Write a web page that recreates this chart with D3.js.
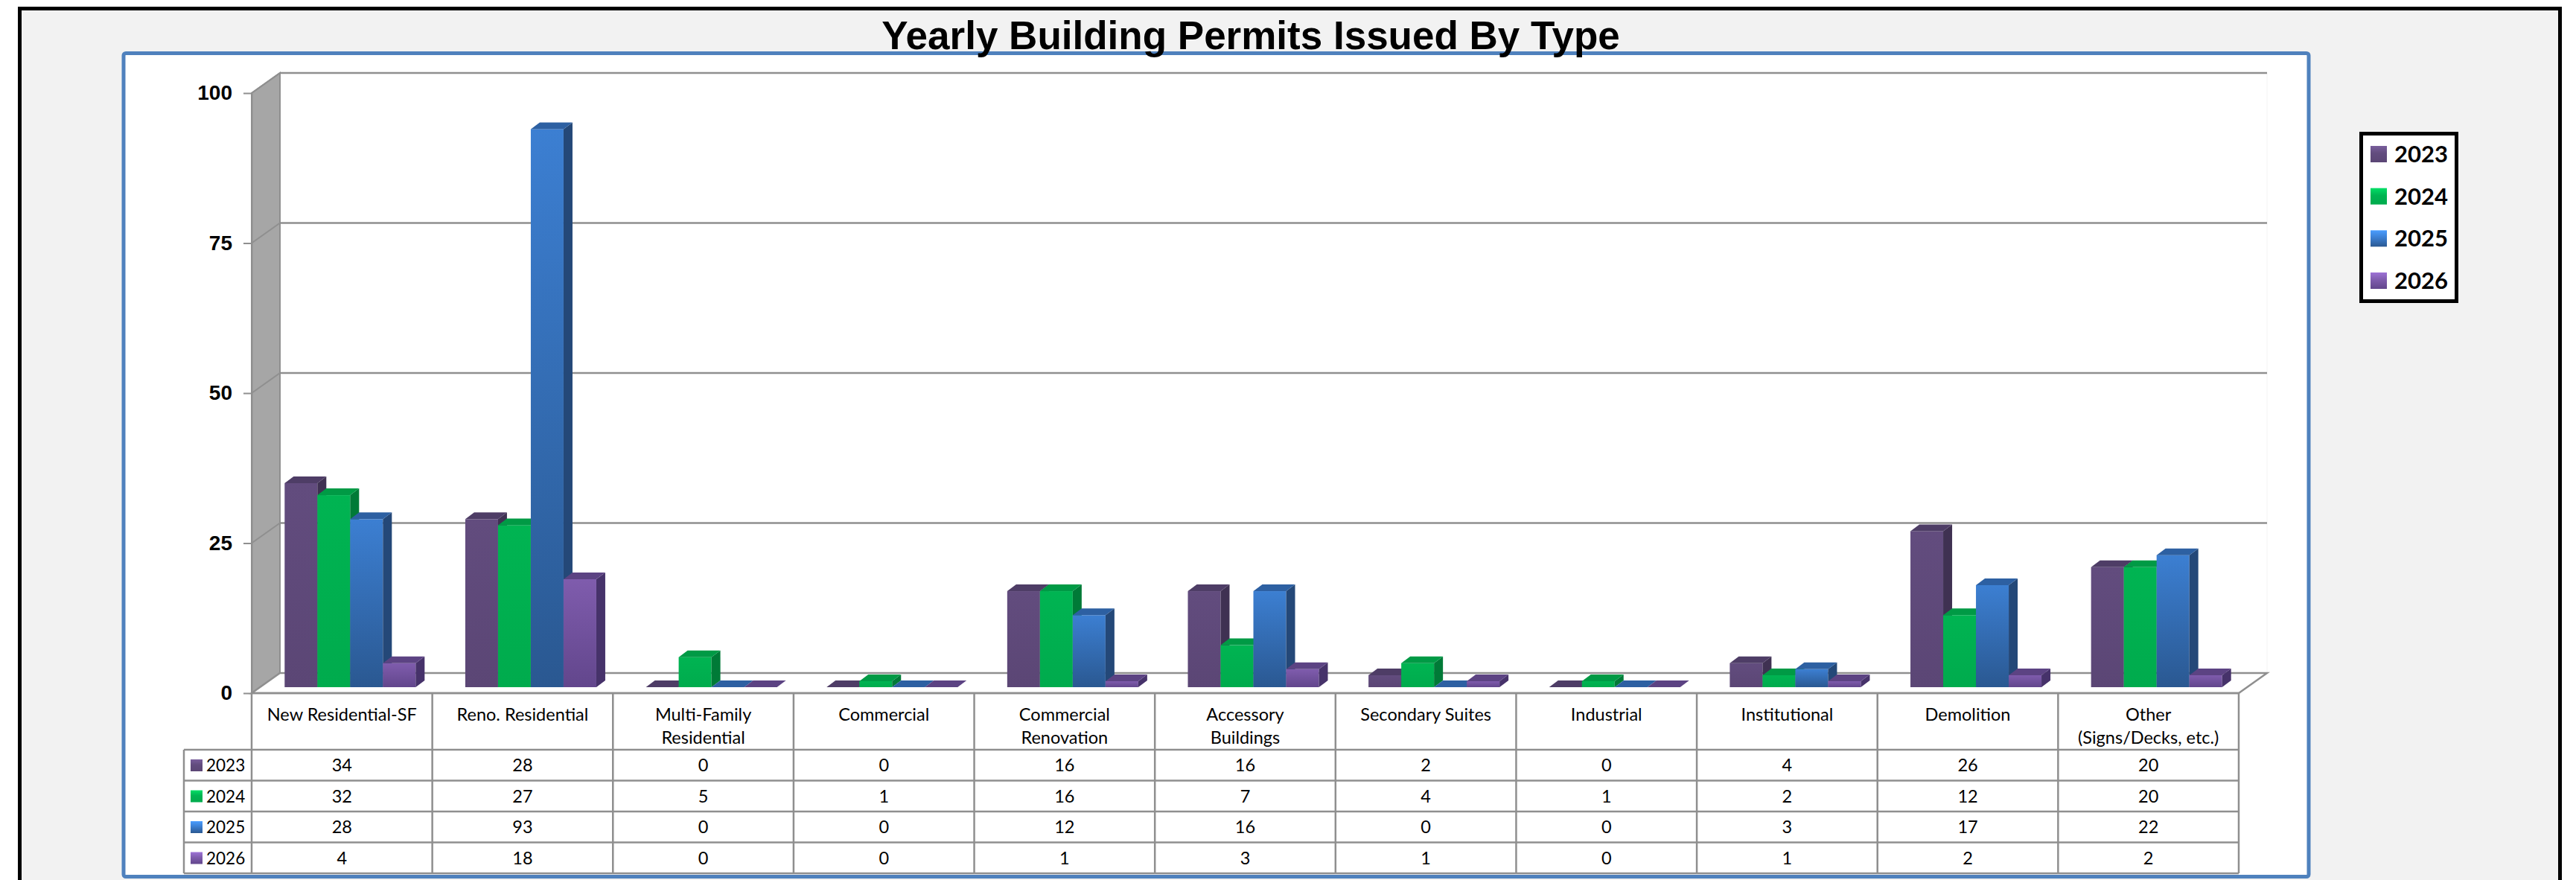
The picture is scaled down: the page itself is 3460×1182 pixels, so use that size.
<!DOCTYPE html>
<html>
<head>
<meta charset="utf-8">
<script src="https://cdn.jsdelivr.net/npm/d3@7"></script>
<style>
  body { margin: 0; background: #fff; }
  svg { display: block; }
</style>
</head>
<body>
<script>
// chart data
const title = "Yearly Building Permits Issued By Type";
const categories = ["New Residential-SF", "Reno. Residential", "Multi-Family Residential", "Commercial",
  "Commercial Renovation", "Accessory Buildings", "Secondary Suites", "Industrial", "Institutional",
  "Demolition", "Other (Signs/Decks, etc.)"];
const categoryLines = [["New Residential-SF"], ["Reno. Residential"], ["Multi-Family", "Residential"], ["Commercial"],
  ["Commercial", "Renovation"], ["Accessory", "Buildings"], ["Secondary Suites"], ["Industrial"], ["Institutional"],
  ["Demolition"], ["Other", "(Signs/Decks, etc.)"]];
const years = ["2023", "2024", "2025", "2026"];
const v2023 = [34, 28, 0, 0, 16, 16, 2, 0, 4, 26, 20];
const v2024 = [32, 27, 5, 1, 16, 7, 4, 1, 2, 12, 20];
const v2025 = [28, 93, 0, 0, 12, 16, 0, 0, 3, 17, 22];
const v2026 = [4, 18, 0, 0, 1, 3, 1, 0, 1, 2, 2];
const yTicks = [0, 25, 50, 75, 100];

const series = [v2023, v2024, v2025, v2026];
// front top, front bottom, side, top face
const colors = [
  ["#624c7e", "#5b4675", "#3f3152", "#4e3d66"],
  ["#00b452", "#00ab4d", "#007a37", "#009a45"],
  ["#3c7fd2", "#2a5891", "#244878", "#2d60a2"],
  ["#7f5cad", "#62468c", "#46326a", "#5c4383"]
];

const W = 3460, H = 1182;
const svg = d3.select("body").append("svg").attr("width", W).attr("height", H);
const defs = svg.append("defs");
colors.forEach((c, i) => {
  const g = defs.append("linearGradient").attr("id", "g" + i)
    .attr("x1", 0).attr("y1", 0).attr("x2", 0).attr("y2", 1);
  g.append("stop").attr("offset", "0%").attr("stop-color", c[0]);
  g.append("stop").attr("offset", "100%").attr("stop-color", c[1]);
  const k = defs.append("linearGradient").attr("id", "k" + i)
    .attr("x1", 0).attr("y1", 0).attr("x2", 0).attr("y2", 1);
  k.append("stop").attr("offset", "0%").attr("stop-color", d3.color(c[0]).brighter(0.6));
  k.append("stop").attr("offset", "45%").attr("stop-color", c[0]);
  k.append("stop").attr("offset", "100%").attr("stop-color", c[1]);
});

// outer frame and plot panel
svg.append("rect").attr("x", 26.5).attr("y", 11.5).attr("width", 3412).attr("height", 1200)
  .attr("fill", "#f2f2f2").attr("stroke", "#000").attr("stroke-width", 5);
svg.append("rect").attr("x", 166).attr("y", 71.5).attr("width", 2935).attr("height", 1106).attr("rx", 3)
  .attr("fill", "#fff").attr("stroke", "#4f81bd").attr("stroke-width", 5);
svg.append("text").attr("x", 1680).attr("y", 66).attr("text-anchor", "middle")
  .attr("font-family", "'Liberation Sans', Arial, sans-serif").attr("font-weight", "bold")
  .attr("font-size", 53).text(title);

// scales
const x = d3.scaleBand().domain(categories).range([338, 3007]);
const xs = d3.scaleBand().domain(years).range([0, x.bandwidth()]).paddingOuter(0.757);
const y = d3.scaleLinear().domain([0, 100]).range([931, 125]);
const dx = 38, dy = -27;          // wall depth
const fx = 11, fy = -8;           // bar front offset
const bx = 12, by = -9;           // bar depth
const grid = "#8f8f8f";

const walls = svg.append("g");
const pts = a => a.map(p => p.join(",")).join(" ");
// back wall
walls.append("rect").attr("x", 338 + dx).attr("y", y(100) + dy)
  .attr("width", 3007 - 338).attr("height", y(0) - y(100)).attr("fill", "#fff")
  .attr("stroke", "#f4f4f4");
// left wall
walls.append("polygon").attr("points", pts([[338, y(0)], [338, y(100)], [338 + dx, y(100) + dy], [338 + dx, y(0) + dy]]))
  .attr("fill", "#a6a6a6").attr("stroke", grid).attr("stroke-width", 2);
// floor
walls.append("polygon").attr("points", pts([[338, y(0)], [3007, y(0)], [3007 + dx, y(0) + dy], [338 + dx, y(0) + dy]]))
  .attr("fill", "#fff").attr("stroke", grid).attr("stroke-width", 2.5);
// gridlines
walls.selectAll(".gb").data(yTicks.filter(d => d > 0)).join("line")
  .attr("x1", 338 + dx).attr("x2", 3007 + dx).attr("y1", d => y(d) + dy).attr("y2", d => y(d) + dy)
  .attr("stroke", grid).attr("stroke-width", 2.5);
walls.selectAll(".gl").data(yTicks.filter(d => d > 0)).join("line")
  .attr("x1", 338).attr("x2", 338 + dx).attr("y1", d => y(d)).attr("y2", d => y(d) + dy)
  .attr("stroke", grid).attr("stroke-width", 2);

// y axis
const ax = svg.append("g").attr("transform", "translate(338,0)")
  .call(d3.axisLeft(y).tickValues(yTicks).tickSize(11).tickSizeOuter(0).tickPadding(15));
ax.select(".domain").attr("stroke", grid).attr("stroke-width", 2);
ax.selectAll(".tick line").attr("stroke", grid).attr("stroke-width", 2);
ax.selectAll(".tick text").attr("fill", "#000").attr("font-size", 28).attr("font-weight", "bold")
  .attr("font-family", "'Liberation Sans', Arial, sans-serif");

// 3D bars
const bars = svg.append("g");
categories.forEach((cat, i) => {
  years.forEach((yr, j) => {
    const v = series[j][i];
    const xl = x(cat) + xs(yr) + fx, xr = xl + xs.bandwidth();
    const yt = y(v) + fy, yb = y(0) + fy;
    const c = colors[j];
    const g = bars.append("g");
    if (v > 0) {
      g.append("rect").attr("x", xl).attr("y", yt).attr("width", xr - xl).attr("height", yb - yt)
        .attr("fill", `url(#g${j})`);
      g.append("polygon").attr("points", pts([[xr, yt], [xr + bx, yt + by], [xr + bx, yb + by], [xr, yb]]))
        .attr("fill", c[2]);
    }
    g.append("polygon").attr("points", pts([[xl, yt], [xl + bx, yt + by], [xr + bx, yt + by], [xr, yt]]))
      .attr("fill", c[3]);
  });
});

// data table
const rows = d3.scaleBand().domain(years).range([1007, 1173]);
const tbl = svg.append("g").attr("font-family", "Lato, 'Open Sans', sans-serif").attr("font-size", 23.5);
const tLine = (x1, y1, x2, y2) => tbl.append("line").attr("x1", x1).attr("y1", y1).attr("x2", x2).attr("y2", y2)
  .attr("stroke", grid).attr("stroke-width", 2.5);
categories.forEach(c => tLine(x(c), 931, x(c), 1173));
tLine(3007, 931, 3007, 1173);
tLine(247, 1007, 247, 1173);
tLine(338, 931, 3007, 931);
years.forEach(yr => tLine(247, rows(yr), 3007, rows(yr)));
tLine(247, 1173, 3007, 1173);

categories.forEach((cat, i) => {
  const cx = x(cat) + x.bandwidth() / 2;
  tbl.append("text").attr("x", cx).attr("y", 968).attr("text-anchor", "middle")
    .selectAll("tspan").data(categoryLines[i]).join("tspan")
    .attr("x", cx).attr("dy", (d, k) => k ? 31 : 0).text(d => d);
  years.forEach((yr, j) => {
    tbl.append("text").attr("x", cx).attr("y", rows(yr) + 29).attr("text-anchor", "middle")
      .text(series[j][i]);
  });
});
years.forEach((yr, j) => {
  tbl.append("rect").attr("x", 256).attr("y", rows(yr) + 13).attr("width", 16).attr("height", 16)
    .attr("fill", `url(#k${j})`);
  tbl.append("text").attr("x", 277).attr("y", rows(yr) + 29).attr("font-size", 22.5).text(yr);
});

// legend
const lg = svg.append("g").attr("font-family", "Lato, 'Open Sans', sans-serif");
lg.append("rect").attr("x", 3171.5).attr("y", 179.5).attr("width", 128).attr("height", 225)
  .attr("fill", "#fff").attr("stroke", "#000").attr("stroke-width", 5);
const ly = d3.scalePoint().domain(years).range([207, 377]);
years.forEach((yr, j) => {
  lg.append("rect").attr("x", 3184).attr("y", ly(yr) - 11).attr("width", 22).attr("height", 22)
    .attr("fill", `url(#k${j})`);
  lg.append("text").attr("x", 3216).attr("y", ly(yr) + 11).attr("font-size", 31).attr("font-weight", "bold")
    .text(yr);
});
</script>
</body>
</html>
